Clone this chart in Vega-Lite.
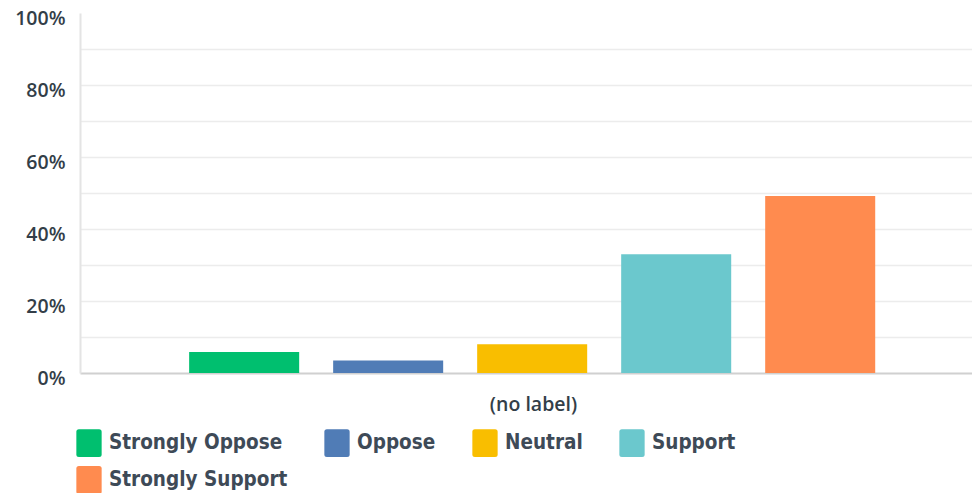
{
  "$schema": "https://vega.github.io/schema/vega-lite/v6.json",
  "width": 892,
  "height": 360,
  "autosize": {"type": "none"},
  "padding": {"left": 80, "top": 13, "right": 0, "bottom": 120},
  "background": "white",
  "data": {
    "values": [
      {"answer": "Strongly Oppose", "pct": 0.058},
      {"answer": "Oppose", "pct": 0.035},
      {"answer": "Neutral", "pct": 0.08},
      {"answer": "Support", "pct": 0.33},
      {"answer": "Strongly Support", "pct": 0.492}
    ]
  },
  "mark": {"type": "bar"},
  "encoding": {
    "x": {
      "field": "answer",
      "type": "nominal",
      "sort": ["Strongly Oppose", "Oppose", "Neutral", "Support", "Strongly Support"],
      "scale": {"paddingInner": 0.236, "paddingOuter": 0.715, "align": 0.53},
      "axis": {
        "title": "(no label)",
        "labels": false,
        "ticks": false,
        "domainColor": "#d0d0d0",
        "domainWidth": 2,
        "titleFont": "Open Sans",
        "titleFontSize": 19.5,
        "titleFontWeight": 600,
        "titleColor": "#333e48",
        "titlePadding": 22,
        "titleX": 453
      }
    },
    "y": {
      "field": "pct",
      "type": "quantitative",
      "scale": {"domain": [0, 1], "nice": false},
      "axis": {
        "title": null,
        "values": [0, 0.1, 0.2, 0.3, 0.4, 0.5, 0.6, 0.7, 0.8, 0.9, 1],
        "format": ".0%",
        "labelExpr": "round(datum.value * 10) % 2 == 0 ? datum.label : ''",
        "labelFont": "Open Sans",
        "labelFontSize": 19.5,
        "labelFontWeight": 600,
        "labelColor": "#333e48",
        "labelPadding": 15,
        "labelOffset": 5,
        "ticks": false,
        "tickSize": 0,
        "domainColor": "#e4e4e4",
        "domainWidth": 2,
        "grid": true,
        "gridColor": "#ececec",
        "gridWidth": 1.5,
        "gridOpacity": {"condition": {"test": "datum.value >= 1 || datum.value <= 0", "value": 0}, "value": 1}
      }
    },
    "color": {
      "field": "answer",
      "type": "nominal",
      "sort": ["Strongly Oppose", "Oppose", "Neutral", "Support", "Strongly Support"],
      "scale": {
        "domain": ["Strongly Oppose", "Oppose", "Neutral", "Support", "Strongly Support"],
        "range": ["#00bf6f", "#507cb6", "#f9be00", "#6bc8cd", "#ff8b4f"]
      },
      "legend": {
        "title": null,
        "orient": "none",
        "legendX": -4,
        "legendY": 417,
        "direction": "horizontal",
        "columns": 4,
        "columnPadding": 36,
        "rowPadding": 9,
        "symbolType": "M -0.8 -1.1 H 0.8 Q 1 -1.1 1 -0.9 V 0.9 Q 1 1.1 0.8 1.1 H -0.8 Q -1 1.1 -1 0.9 V -0.9 Q -1 -1.1 -0.8 -1.1 Z",
        "symbolSize": 640,
        "symbolStrokeWidth": 0,
        "symbolOpacity": 1,
        "labelFont": "DejaVu Sans Condensed",
        "labelFontSize": 20.5,
        "labelFontWeight": "bold",
        "labelColor": "#3e4a57",
        "labelOffset": 7,
        "labelLimit": 300
      }
    }
  },
  "config": {"view": {"stroke": null}}
}
